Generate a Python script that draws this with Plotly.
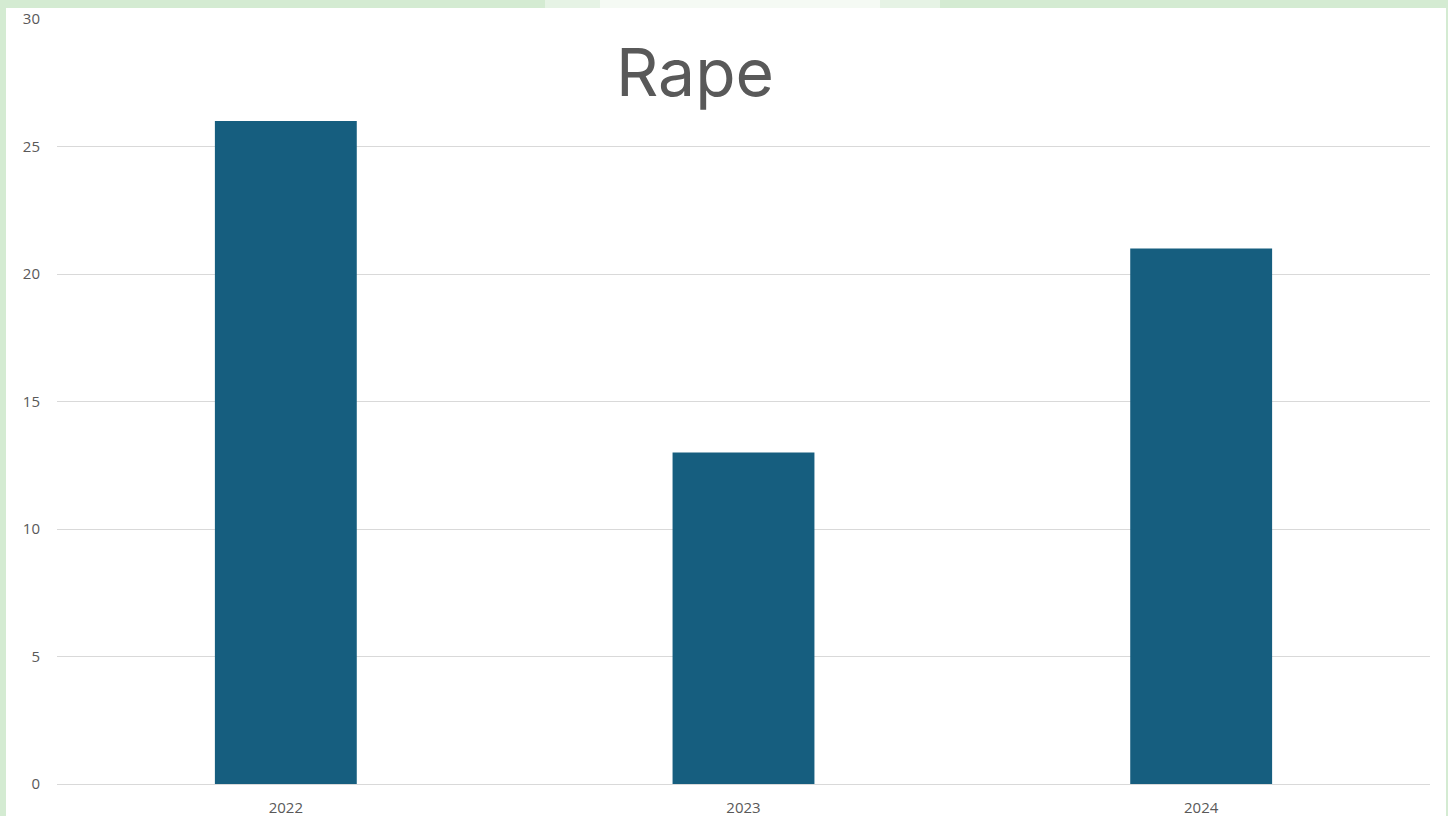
import plotly.graph_objects as go

years = ['2022', '2023', '2024']
counts = [26, 13, 21]
y_ticks = [0, 5, 10, 15, 20, 25, 30]

BAR = '#165e7f'
TEXT = '#595959'
GRID = '#d9d9d9'
EDGE = '#d4ebd2'
EDGE_SOFT = '#e6f3e5'
EDGE_FAINT = '#f5faf4'

fig = go.Figure(go.Bar(x=years, y=counts, marker_color=BAR, marker_line_width=0))

# light green frame around the slide (top strip fades out in the middle)
frame = [
    (0, 0, 545, 8, EDGE), (545, 0, 600, 8, EDGE_SOFT), (600, 0, 880, 8, EDGE_FAINT),
    (880, 0, 940, 8, EDGE_SOFT), (940, 0, 1448, 8, EDGE),
    (0, 0, 6, 816, EDGE), (1446, 0, 1448, 816, EDGE),
]
shapes = []
for x0, y0, x1, y1, col in frame:
    shapes.append(dict(type='rect', xref='paper', yref='paper',
                       x0=(x0 - 57) / 1373, x1=(x1 - 57) / 1373,
                       y0=(784 - y1) / 765, y1=(784 - y0) / 765,
                       fillcolor=col, line_width=0, layer='above'))

fig.update_layout(
    width=1448, height=816, autosize=False,
    margin=dict(l=57, r=18, t=19, b=32),
    paper_bgcolor='white', plot_bgcolor='white',
    bargap=0.69,
    showlegend=False,
    shapes=shapes,
    font=dict(family='Open Sans, Arial, sans-serif', color=TEXT),
    title=dict(text='Rape', x=(695 - 57) / 1373, xref='paper', xanchor='center',
               y=(784 - 73) / 765, yref='paper', yanchor='middle',
               font=dict(size=66, color=TEXT, family='Inter, Open Sans, sans-serif')),
)
fig.update_xaxes(showgrid=False, showline=False, zeroline=False, automargin=False,
                 tickfont=dict(size=15, color=TEXT), ticklabelstandoff=13)
fig.update_yaxes(range=[0, 30], tickvals=y_ticks, showgrid=True, gridcolor=GRID,
                 gridwidth=1, zeroline=True, zerolinecolor=GRID, zerolinewidth=1,
                 showline=False, automargin=False, tickfont=dict(size=15, color=TEXT),
                 ticklabelstandoff=16)

fig.write_html('out.html',
               config={'displayModeBar': False, 'responsive': False},
               post_script="document.body.style.margin='0';"
                           "document.body.style.overflow='hidden';")
